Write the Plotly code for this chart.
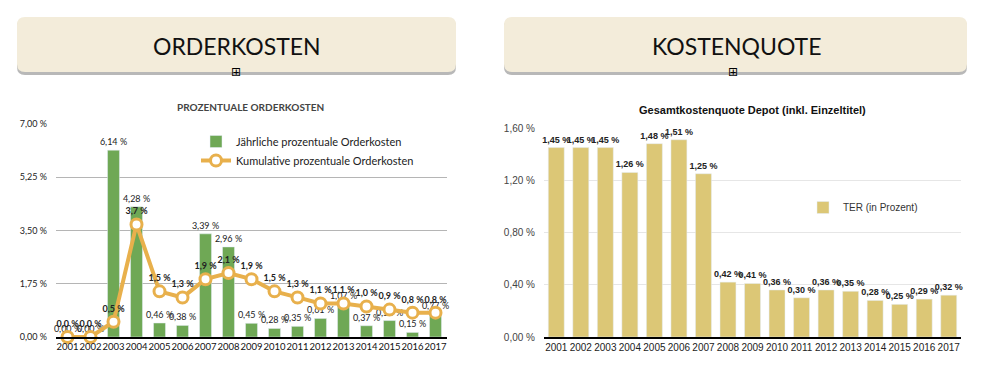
import plotly.graph_objects as go

W, H = 983, 368
OFF = 8  # page body margin offset

years = list(range(2001, 2018))
jaehrlich = [0.00, 0.00, 6.14, 4.28, 0.46, 0.38, 3.39, 2.96, 0.45, 0.28, 0.35, 0.61, 1.07, 0.37, 0.54, 0.15, 0.77]
kumulativ = [0.0, 0.0, 0.5, 3.7, 1.5, 1.3, 1.9, 2.1, 1.9, 1.5, 1.3, 1.1, 1.1, 1.0, 0.9, 0.8, 0.8]
ter = [1.45, 1.45, 1.45, 1.26, 1.48, 1.51, 1.25, 0.42, 0.41, 0.36, 0.30, 0.36, 0.35, 0.28, 0.25, 0.29, 0.32]
left_ticks = [0, 1.75, 3.5, 5.25, 7.0]
left_ticklabels = ["0,00 %", "1,75 %", "3,50 %", "5,25 %", "7,00 %"]
right_ticks = [0, 0.4, 0.8, 1.2, 1.6]
right_ticklabels = ["0,00 %", "0,40 %", "0,80 %", "1,20 %", "1,60 %"]
year_labels = [str(y) for y in years]


def de(v, d):
    return f"{v:.{d}f}".replace(".", ",") + " %"


def px(x):
    return (x - OFF) / W


def py(y):
    return 1 - (y - OFF) / H


def rounded_rect(x0, y0, x1, y1, r):
    X0, X1 = px(x0), px(x1)
    Y0, Y1 = py(y0), py(y1)
    rx, ry = r / W, r / H
    return (f"M {X0+rx},{Y0} L {X1-rx},{Y0} Q {X1},{Y0} {X1},{Y0-ry} "
            f"L {X1},{Y1+ry} Q {X1},{Y1} {X1-rx},{Y1} L {X0+rx},{Y1} "
            f"Q {X0},{Y1} {X0},{Y1+ry} L {X0},{Y0-ry} Q {X0},{Y0} {X0+rx},{Y0} Z")


GREEN = "#6fa855"
GOLD = "#e8b04c"
KHAKI = "#dcc776"

fig = go.Figure()

fig.add_trace(go.Bar(
    x=years, y=jaehrlich, width=0.52, marker_color=GREEN,
    text=[de(v, 2) for v in jaehrlich], textposition="outside",
    textfont=dict(family="Lato", size=9, color="#222"),
    constraintext="none", cliponaxis=False,
    name="Jährliche prozentuale Orderkosten", legend="legend",
    xaxis="x", yaxis="y", hoverinfo="skip"))

fig.add_trace(go.Scatter(
    x=years, y=kumulativ, mode="lines+markers+text",
    line=dict(color=GOLD, width=4),
    marker=dict(size=11, color="white", line=dict(color=GOLD, width=3)),
    text=[de(v, 1) for v in kumulativ], textposition="top center",
    textfont=dict(family="Lato", size=9, color="#222", weight="bold"),
    cliponaxis=False,
    name="Kumulative prozentuale Orderkosten", legend="legend",
    xaxis="x", yaxis="y", hoverinfo="skip"))

fig.add_trace(go.Bar(
    x=years, y=ter, width=0.65, marker_color=KHAKI,
    text=[de(v, 2) for v in ter], textposition="outside",
    textfont=dict(family="Liberation Sans", size=9, color="#222", weight="bold"),
    constraintext="none", cliponaxis=False,
    name="TER (in Prozent)", legend="legend2",
    xaxis="x2", yaxis="y2", hoverinfo="skip"))

shapes = []
for (x0, x1) in [(17, 456), (504, 967)]:
    shapes.append(dict(type="path", xref="paper", yref="paper",
                       path=rounded_rect(x0, 19, x1, 75, 8),
                       fillcolor="#b8b8b8", line=dict(width=0), layer="below"))
    shapes.append(dict(type="path", xref="paper", yref="paper",
                       path=rounded_rect(x0, 17, x1, 72, 8),
                       fillcolor="#f3ecda", line=dict(width=0), layer="below"))

ann_common = dict(xref="paper", yref="paper", showarrow=False,
                  xanchor="center", yanchor="middle")
annotations = [
    dict(text="ORDERKOSTEN", x=px(236.5), y=py(46),
         font=dict(family="Lato", size=23, color="#111"), **ann_common),
    dict(text="KOSTENQUOTE", x=px(736), y=py(46),
         font=dict(family="Lato", size=23, color="#111"), **ann_common),
    dict(text="⊞", x=px(236), y=py(72),
         font=dict(family="DejaVu Sans", size=12, color="#000"), **ann_common),
    dict(text="⊞", x=px(733), y=py(72),
         font=dict(family="DejaVu Sans", size=12, color="#000"), **ann_common),
    dict(text="PROZENTUALE ORDERKOSTEN", x=px(250), y=py(107),
         font=dict(family="Lato", size=10, color="#444", weight="bold"), **ann_common),
    dict(text="Gesamtkostenquote Depot (inkl. Einzeltitel)", x=px(752), y=py(110),
         font=dict(family="Liberation Sans", size=11, color="#111", weight="bold"),
         **ann_common),
]

fig.update_layout(
    width=W, height=H, margin=dict(l=0, r=0, t=0, b=0, autoexpand=False),
    paper_bgcolor="white", plot_bgcolor="white",
    shapes=shapes, annotations=annotations,
    xaxis=dict(domain=[px(56), px(447)], range=[2000.5, 2017.5], anchor="y",
               tickvals=years, ticktext=year_labels, ticks="", tickangle=0,
               tickfont=dict(family="Lato", size=9.5, color="#111"),
               showline=True, linecolor="#000", linewidth=1.5, showgrid=False,
               zeroline=False, fixedrange=True, automargin=False),
    yaxis=dict(domain=[py(337), py(124)], range=[0, 7], anchor="x",
               tickvals=left_ticks, ticktext=left_ticklabels, ticks="",
               tickfont=dict(family="Lato", size=9, color="#222"),
               gridcolor="#b5b5b5", gridwidth=1, zeroline=False,
               ticklabelstandoff=8, fixedrange=True, automargin=False),
    xaxis2=dict(domain=[px(544), px(961)], range=[2000.5, 2017.5], anchor="y2",
                tickvals=years, ticktext=year_labels, ticks="", tickangle=0,
                tickfont=dict(family="Liberation Sans", size=10, color="#222"),
                showline=True, linecolor="#000", linewidth=1.5, showgrid=False,
                zeroline=False, fixedrange=True, automargin=False),
    yaxis2=dict(domain=[py(337), py(128)], range=[0, 1.6], anchor="x2",
                tickvals=right_ticks, ticktext=right_ticklabels, ticks="",
                tickfont=dict(family="Liberation Sans", size=10, color="#444"),
                gridcolor="#e6e6e6", gridwidth=1, zeroline=False,
                ticklabelstandoff=8, fixedrange=True, automargin=False),
    legend=dict(x=px(196), y=py(127), xanchor="left", yanchor="top",
                bgcolor="rgba(0,0,0,0)", font=dict(family="Lato", size=11, color="#222"),
                itemwidth=30, tracegroupgap=0),
    legend2=dict(x=px(803), y=py(193), xanchor="left", yanchor="top",
                 bgcolor="rgba(0,0,0,0)",
                 font=dict(family="Liberation Sans", size=10, color="#333"),
                 itemwidth=30),
    showlegend=True,
)

fig.write_html("out.html")
